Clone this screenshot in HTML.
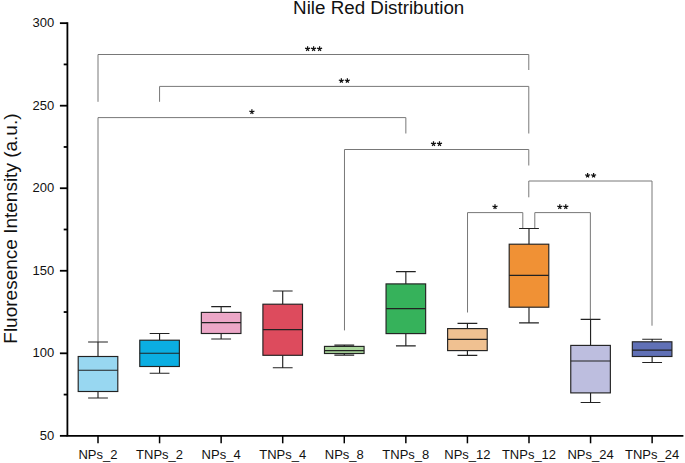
<!DOCTYPE html>
<html><head><meta charset="utf-8"><title>Nile Red Distribution</title>
<style>html,body{margin:0;padding:0;background:#fff;}body{width:685px;height:463px;overflow:hidden;}svg{display:block;}text{font-family:"Liberation Sans",sans-serif;fill:#111;}</style>
</head><body>
<svg width="685" height="463" viewBox="0 0 685 463">
<rect width="685" height="463" fill="#ffffff"/>
<text x="378.7" y="14.2" font-size="18.8" text-anchor="middle">Nile Red Distribution</text>
<text transform="translate(17.4,228.6) rotate(-90)" font-size="19" text-anchor="middle">Fluoresence Intensity (a.u.)</text>
<path d="M98.0 101.8V54.5H528.79V70" fill="none" stroke="#787878" stroke-width="1"/>
<path d="M307.60 48.90L307.60 46.25M307.60 48.90L310.12 48.08M307.60 48.90L308.95 50.76M307.60 48.90L306.25 50.76M307.60 48.90L305.08 48.08M313.60 48.90L313.60 46.25M313.60 48.90L316.12 48.08M313.60 48.90L314.95 50.76M313.60 48.90L312.25 50.76M313.60 48.90L311.08 48.08M319.60 48.90L319.60 46.25M319.60 48.90L322.12 48.08M319.60 48.90L320.95 50.76M319.60 48.90L318.25 50.76M319.60 48.90L317.08 48.08" fill="none" stroke="#111" stroke-width="1.25"/>
<path d="M159.57 101.8V86.4H528.79V133.5" fill="none" stroke="#787878" stroke-width="1"/>
<path d="M341.35 80.80L341.35 78.15M341.35 80.80L343.87 79.98M341.35 80.80L342.70 82.66M341.35 80.80L340.00 82.66M341.35 80.80L338.83 79.98M347.35 80.80L347.35 78.15M347.35 80.80L349.87 79.98M347.35 80.80L348.70 82.66M347.35 80.80L346.00 82.66M347.35 80.80L344.83 79.98" fill="none" stroke="#111" stroke-width="1.25"/>
<path d="M98.0 342V117.6H405.85V133.5" fill="none" stroke="#787878" stroke-width="1"/>
<path d="M251.90 112.00L251.90 109.35M251.90 112.00L254.42 111.18M251.90 112.00L253.25 113.86M251.90 112.00L250.55 113.86M251.90 112.00L249.38 111.18" fill="none" stroke="#111" stroke-width="1.25"/>
<path d="M344.47999999999996 330.4V149.5H528.79V165.5" fill="none" stroke="#787878" stroke-width="1"/>
<path d="M433.50 143.90L433.50 141.25M433.50 143.90L436.02 143.08M433.50 143.90L434.85 145.76M433.50 143.90L432.15 145.76M433.50 143.90L430.98 143.08M439.50 143.90L439.50 141.25M439.50 143.90L442.02 143.08M439.50 143.90L440.85 145.76M439.50 143.90L438.15 145.76M439.50 143.90L436.98 143.08" fill="none" stroke="#111" stroke-width="1.25"/>
<path d="M528.79 197.3V181.0H652.0V325.7" fill="none" stroke="#787878" stroke-width="1"/>
<path d="M587.60 175.60L587.60 172.95M587.60 175.60L590.12 174.78M587.60 175.60L588.95 177.46M587.60 175.60L586.25 177.46M587.60 175.60L585.08 174.78M593.60 175.60L593.60 172.95M593.60 175.60L596.12 174.78M593.60 175.60L594.95 177.46M593.60 175.60L592.25 177.46M593.60 175.60L591.08 174.78" fill="none" stroke="#111" stroke-width="1.25"/>
<path d="M467.52000000000004 312.5V212.6H522.8V228.3" fill="none" stroke="#787878" stroke-width="1"/>
<path d="M495.00 207.00L495.00 204.35M495.00 207.00L497.52 206.18M495.00 207.00L496.35 208.86M495.00 207.00L493.65 208.86M495.00 207.00L492.48 206.18" fill="none" stroke="#111" stroke-width="1.25"/>
<path d="M534.8 228.3V212.6H590.3599999999999V319.3" fill="none" stroke="#787878" stroke-width="1"/>
<path d="M559.80 207.00L559.80 204.35M559.80 207.00L562.32 206.18M559.80 207.00L561.15 208.86M559.80 207.00L558.45 208.86M559.80 207.00L557.28 206.18M565.80 207.00L565.80 204.35M565.80 207.00L568.32 206.18M565.80 207.00L567.15 208.86M565.80 207.00L564.45 208.86M565.80 207.00L563.28 206.18" fill="none" stroke="#111" stroke-width="1.25"/>
<g stroke="#222" stroke-width="1.15" fill="none">
<path d="M98.0 342.0V356.5M98.0 391.5V398.0M88.1 342.0H107.9M88.1 398.0H107.9"/>
<rect x="78.20" y="356.5" width="39.6" height="35.00" fill="#98D7F1"/>
<path d="M78.20 370.25H117.80"/>
</g>
<g stroke="#222" stroke-width="1.15" fill="none">
<path d="M159.57 333.5V340.2M159.57 366.5V373.2M149.67 333.5H169.47M149.67 373.2H169.47"/>
<rect x="139.77" y="340.2" width="39.6" height="26.30" fill="#0BAEE2"/>
<path d="M139.77 353.2H179.37"/>
</g>
<g stroke="#222" stroke-width="1.15" fill="none">
<path d="M221.14 306.6V312.4M221.14 333.5V339.0M211.23999999999998 306.6H231.04M211.23999999999998 339.0H231.04"/>
<rect x="201.34" y="312.4" width="39.6" height="21.10" fill="#ECA7C7"/>
<path d="M201.34 322.6H240.94"/>
</g>
<g stroke="#222" stroke-width="1.15" fill="none">
<path d="M282.71 291.0V304.2M282.71 355.3V367.7M272.81 291.0H292.60999999999996M272.81 367.7H292.60999999999996"/>
<rect x="262.91" y="304.2" width="39.6" height="51.10" fill="#DD4B5D"/>
<path d="M262.91 329.6H302.51"/>
</g>
<g stroke="#222" stroke-width="1.15" fill="none">
<path d="M344.28 345.1V346.4M344.28 353.5V355.1M334.38 345.1H354.17999999999995M334.38 355.1H354.17999999999995"/>
<rect x="324.48" y="346.4" width="39.6" height="7.10" fill="#A9D59B"/>
<path d="M324.48 350.6H364.08"/>
</g>
<g stroke="#222" stroke-width="1.15" fill="none">
<path d="M405.85 271.6V283.9M405.85 333.6V345.9M395.95000000000005 271.6H415.75M395.95000000000005 345.9H415.75"/>
<rect x="386.05" y="283.9" width="39.6" height="49.70" fill="#36B25B"/>
<path d="M386.05 308.6H425.65"/>
</g>
<g stroke="#222" stroke-width="1.15" fill="none">
<path d="M467.42 323.3V328.6M467.42 350.6V355.4M457.52000000000004 323.3H477.32M457.52000000000004 355.4H477.32"/>
<rect x="447.62" y="328.6" width="39.6" height="22.00" fill="#F0C191"/>
<path d="M447.62 339.3H487.22"/>
</g>
<g stroke="#222" stroke-width="1.15" fill="none">
<path d="M528.99 228.5V244.2M528.99 307.2V322.9M519.09 228.5H538.89M519.09 322.9H538.89"/>
<rect x="509.19" y="244.2" width="39.6" height="63.00" fill="#F09135"/>
<path d="M509.19 275.3H548.79"/>
</g>
<g stroke="#222" stroke-width="1.15" fill="none">
<path d="M590.56 319.3V345.4M590.56 392.9V402.5M580.66 319.3H600.4599999999999M580.66 402.5H600.4599999999999"/>
<rect x="570.76" y="345.4" width="39.6" height="47.50" fill="#BDBEDF"/>
<path d="M570.76 361.0H610.36"/>
</g>
<g stroke="#222" stroke-width="1.15" fill="none">
<path d="M652.13 339.2V341.8M652.13 356.5V362.5M642.23 339.2H662.03M642.23 362.5H662.03"/>
<rect x="632.33" y="341.8" width="39.6" height="14.70" fill="#6070B6"/>
<path d="M632.33 350.1H671.93"/>
</g>
<g stroke="#000" stroke-width="1.8" fill="none">
<path d="M67.4 22.25V435.85"/>
<path d="M66.55 435.85H683.4"/>
<path d="M59.9 435.85H67.4"/>
<path d="M59.9 353.31H67.4"/>
<path d="M59.9 270.77H67.4"/>
<path d="M59.9 188.23H67.4"/>
<path d="M59.9 105.69H67.4"/>
<path d="M59.9 23.15H67.4"/>
<path d="M63.7 394.58H67.4"/>
<path d="M63.7 312.04H67.4"/>
<path d="M63.7 229.50H67.4"/>
<path d="M63.7 146.96H67.4"/>
<path d="M63.7 64.42H67.4"/>
<path d="M98.0 435.85V443.3" stroke-width="1.5"/>
<path d="M159.57 435.85V443.3" stroke-width="1.5"/>
<path d="M221.14 435.85V443.3" stroke-width="1.5"/>
<path d="M282.71 435.85V443.3" stroke-width="1.5"/>
<path d="M344.28 435.85V443.3" stroke-width="1.5"/>
<path d="M405.85 435.85V443.3" stroke-width="1.5"/>
<path d="M467.42 435.85V443.3" stroke-width="1.5"/>
<path d="M528.99 435.85V443.3" stroke-width="1.5"/>
<path d="M590.56 435.85V443.3" stroke-width="1.5"/>
<path d="M652.13 435.85V443.3" stroke-width="1.5"/>
</g>
<text x="54.2" y="439.95" font-size="13" text-anchor="end">50</text>
<text x="54.2" y="357.41" font-size="13" text-anchor="end">100</text>
<text x="54.2" y="274.87" font-size="13" text-anchor="end">150</text>
<text x="54.2" y="192.33" font-size="13" text-anchor="end">200</text>
<text x="54.2" y="109.79" font-size="13" text-anchor="end">250</text>
<text x="54.2" y="27.25" font-size="13" text-anchor="end">300</text>
<text x="98.0" y="459.3" font-size="13" text-anchor="middle">NPs_2</text>
<text x="159.57" y="459.3" font-size="13" text-anchor="middle">TNPs_2</text>
<text x="221.14" y="459.3" font-size="13" text-anchor="middle">NPs_4</text>
<text x="282.71" y="459.3" font-size="13" text-anchor="middle">TNPs_4</text>
<text x="344.28" y="459.3" font-size="13" text-anchor="middle">NPs_8</text>
<text x="405.85" y="459.3" font-size="13" text-anchor="middle">TNPs_8</text>
<text x="467.42" y="459.3" font-size="13" text-anchor="middle">NPs_12</text>
<text x="528.99" y="459.3" font-size="13" text-anchor="middle">TNPs_12</text>
<text x="590.56" y="459.3" font-size="13" text-anchor="middle">NPs_24</text>
<text x="652.13" y="459.3" font-size="13" text-anchor="middle">TNPs_24</text>
</svg></body></html>
